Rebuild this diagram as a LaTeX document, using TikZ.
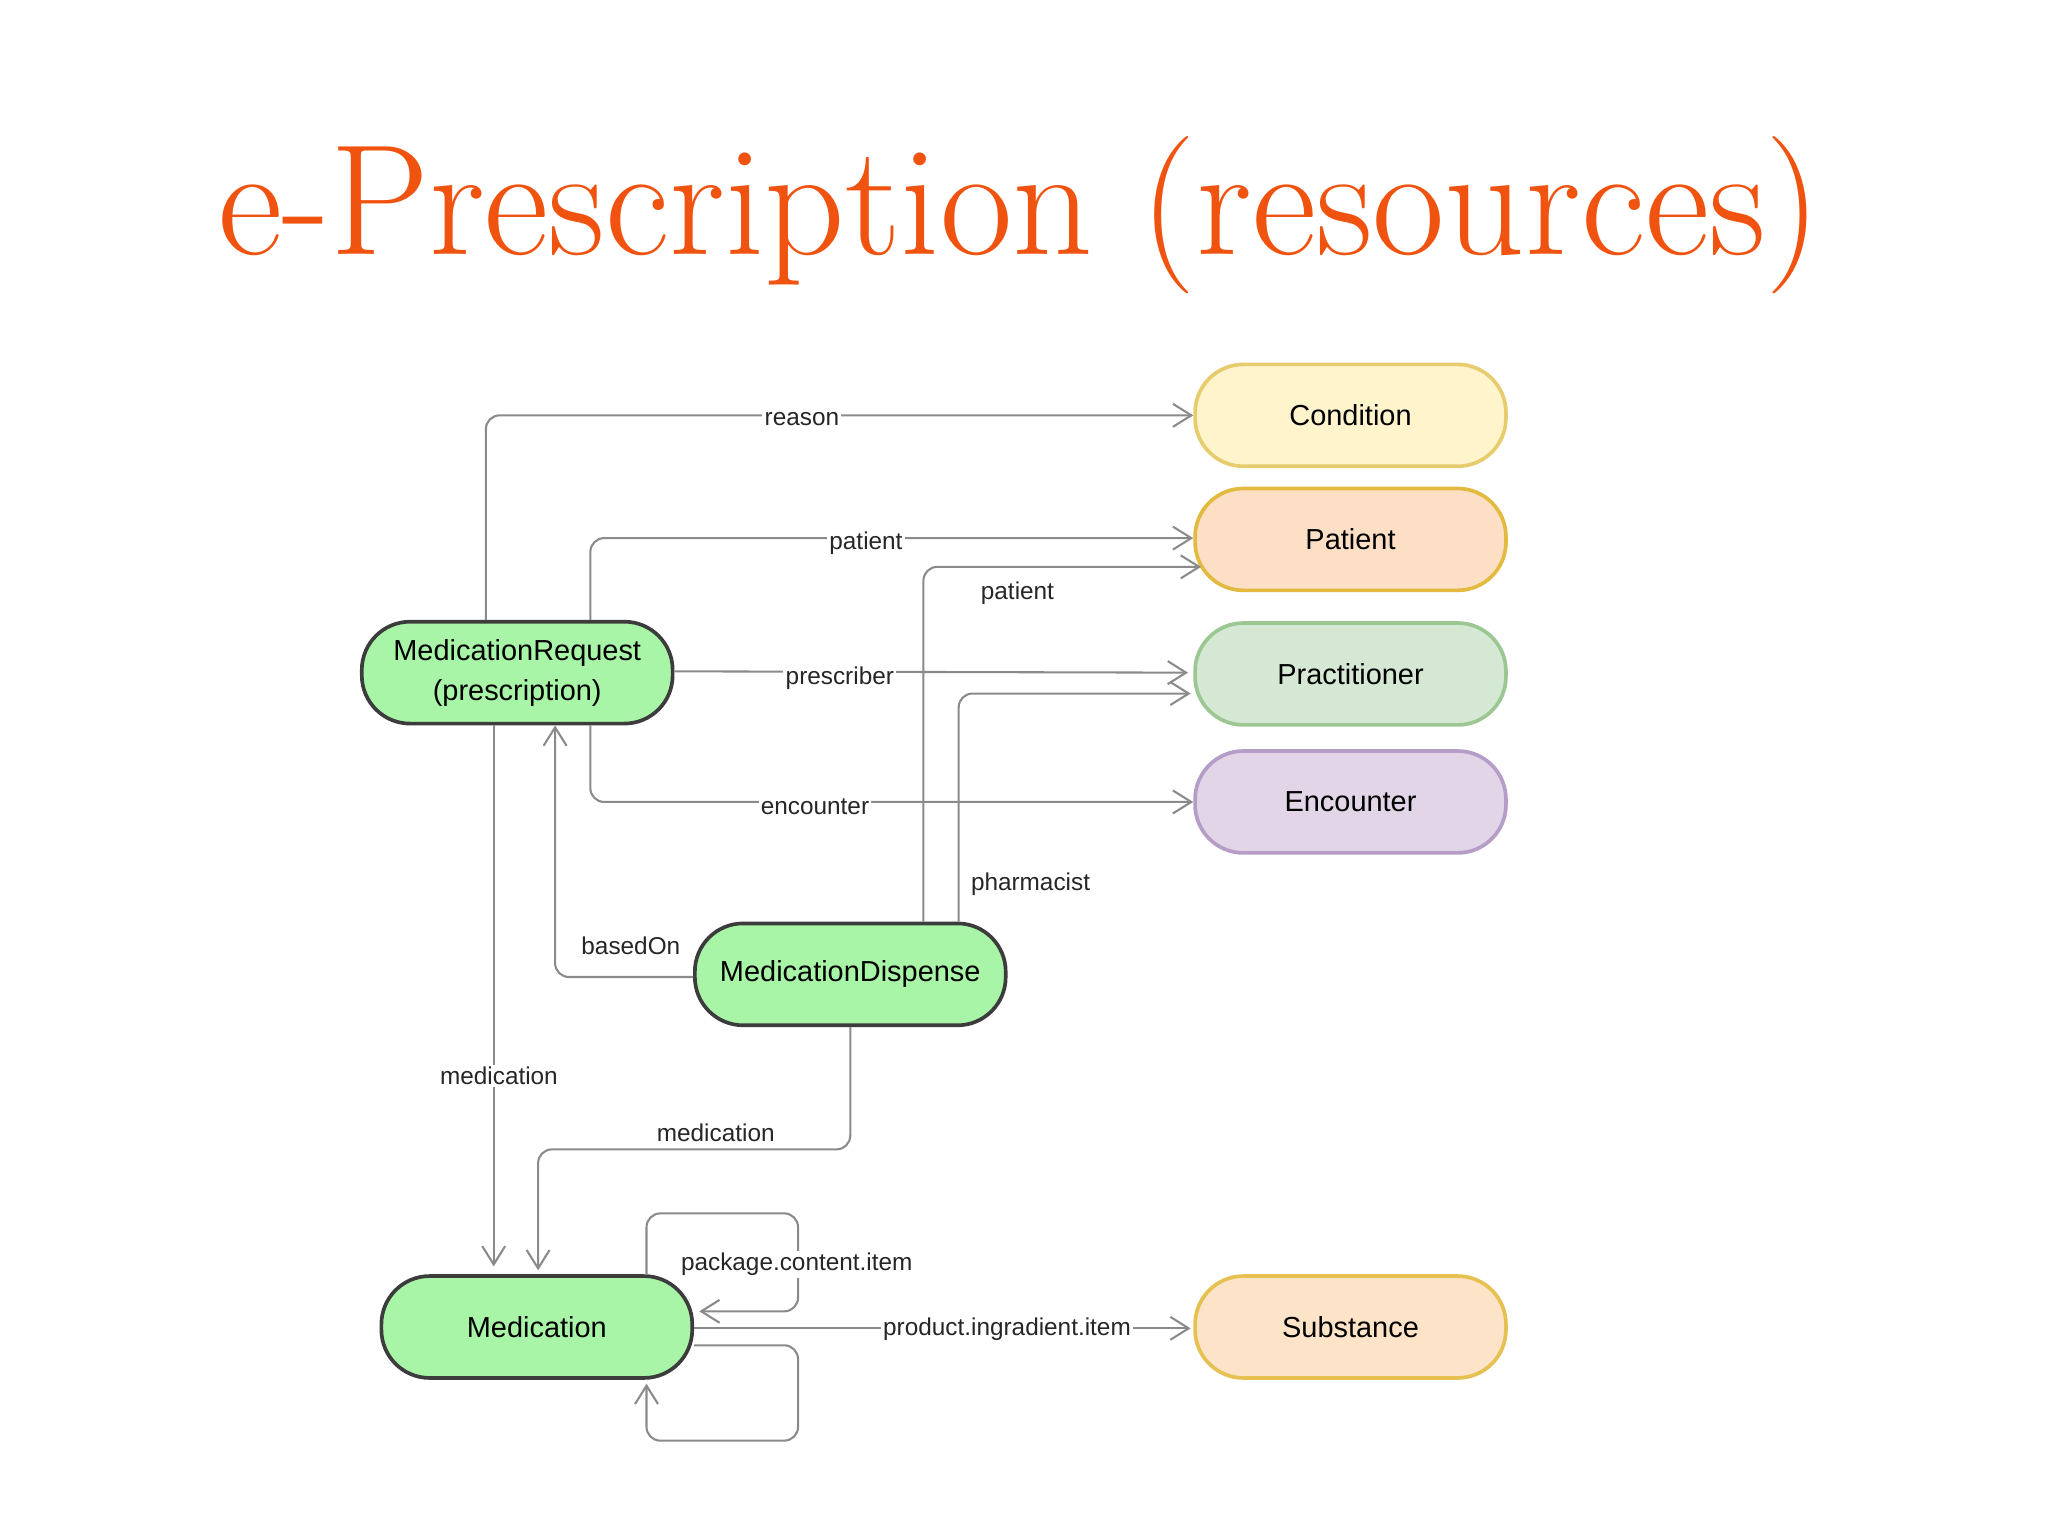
\documentclass[tikz,border=0pt]{standalone}
\usepackage{fontspec}
\setsansfont{Liberation Sans}
\usetikzlibrary{arrows.meta,calc}
\definecolor{ttl}{HTML}{F0520F}
\definecolor{edge}{HTML}{8A8A8A}
\tikzset{
  ent/.style={rounded corners=10.5pt, minimum width=238*0.01cm, minimum height=78*0.01cm, line width=0.8pt, font=\sffamily\fontsize{6.3}{7.2}\selectfont, align=center, inner sep=0pt},
  green/.style={ent, fill={rgb,255:red,168;green,245;blue,168}, draw={rgb,255:red,60;green,60;blue,60}},
  rel/.style={draw=edge, line width=0.45pt, rounded corners=3pt, -{Straight Barb[length=4pt,width=5pt]}},
  lab/.style={fill=white, inner sep=0.5pt, font=\sffamily\fontsize{5.3}{6}\selectfont, text=black!85}
}
\begin{document}
\begin{tikzpicture}[x=0.01cm,y=-0.01cm]
\useasboundingbox (0,0) rectangle (1568,1176);
\node[font=\fontsize{34.3}{40}\selectfont, text=ttl] (title) at (781,165) {e-Prescription (resources)};
\node[ent, fill={rgb,255:red,255;green,244;blue,204}, draw={rgb,255:red,231;green,204;blue,110}] (cond) at (1034,318) {Condition};
\node[ent, fill={rgb,255:red,253;green,223;blue,198}, draw={rgb,255:red,227;green,186;blue,64}] (pat) at (1034,413) {Patient};
\node[ent, fill={rgb,255:red,213;green,232;blue,212}, draw={rgb,255:red,156;green,199;blue,146}] (prac) at (1034,516) {Practitioner};
\node[ent, fill={rgb,255:red,225;green,213;blue,231}, draw={rgb,255:red,181;green,157;blue,200}] (enc) at (1034,614) {Encounter};
\node[ent, fill={rgb,255:red,253;green,227;blue,200}, draw={rgb,255:red,230;green,192;blue,80}] (sub) at (1034,1016) {Substance};
\node[green] (mr) at (396,515) {MedicationRequest\\[1.5pt](prescription)};
\node[green] (md) at (651,746) {MedicationDispense};
\node[green] (med) at (411,1016) {Medication};

\draw[rel] (mr.north) ++(-24,0) |- (cond.west);
\node[lab] (lr) at (614,321) {reason};
\draw[rel] (mr.north) ++(56,0) |- ($(pat.west)+(0,-1)$);
\node[lab] (lpa) at (663,416) {patient};
\draw[rel] ($(mr.east)+(0,-1)$) -- ($(prac.west)+(-4,-1)$);
\node[lab] (lpr) at (643,519) {prescriber};
\draw[rel] (mr.south) ++(56,0) |- (enc.west);
\node[lab] (le) at (624,618) {encounter};
\draw[rel] (md.north) ++(56,0) |- ($(pat.west)+(6,21)$);
\node[lab] (lp) at (779,454) {patient};
\draw[rel] (md.north) ++(83,0) |- ($(prac.west)+(-2,15)$);
\node[lab] (lph) at (789,677) {pharmacist};
\draw[rel] ($(md.west)+(0,2)$) -| ($(mr.south)+(29,0)$);
\node[lab] (lb) at (483,724) {basedOn};
\draw[rel] (mr.south) ++(-18,0) -- ($(med.north)+(-33,-6)$);
\node[lab] (lm1) at (382,824) {medication};
\draw[rel] (md.south) |- (412,880) -- ($(med.north)+(1,-3)$);
\node[lab] (lm) at (548,867) {medication};
\draw[rel] (med.north) ++(84,0) |- (611,929) |- ($(med.east)+(4,-12)$);
\node[lab] (lpc) at (610,968) {package.content.item};
\draw[rel] ($(med.east)+(0,1)$) -- ($(sub.west)+(-2,1)$);
\node[lab] (lpi) at (771,1018) {product.ingradient.item};
\draw[rel] ($(med.east)+(0,14)$) -| (611,1103) -| ($(med.south)+(84,3)$);
\end{tikzpicture}
\end{document}
